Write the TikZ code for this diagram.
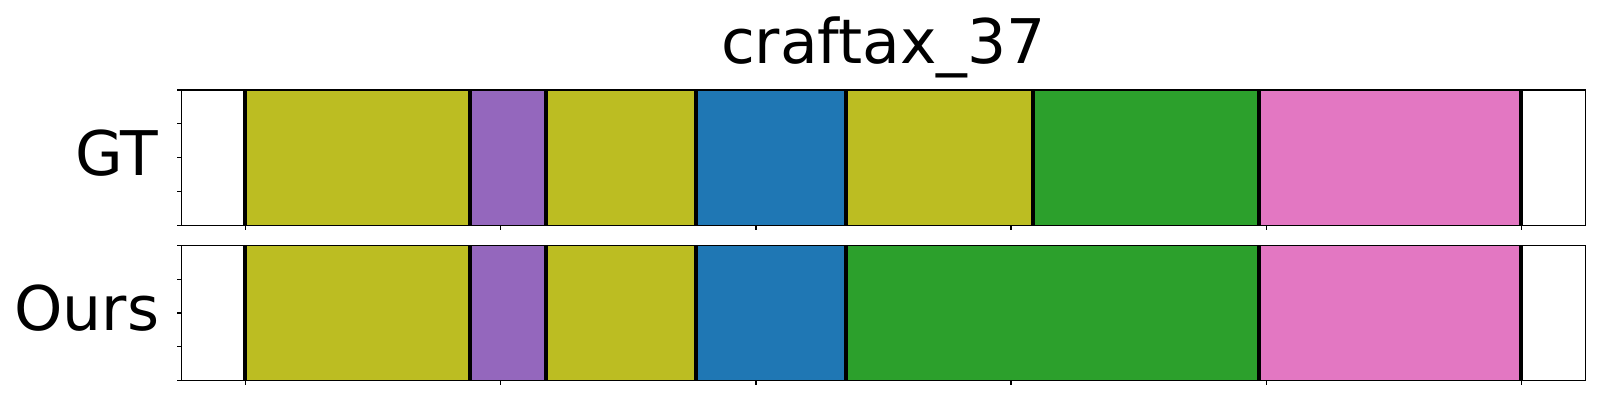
\documentclass[tikz,border=0pt]{standalone}
\usepackage{fontspec}
\setmainfont{DejaVu Sans}
\usepackage{xcolor}
\usetikzlibrary{positioning}

\definecolor{tabolive}{HTML}{BCBD22}
\definecolor{tabpurple}{HTML}{9467BD}
\definecolor{tabblue}{HTML}{1F77B4}
\definecolor{tabgreen}{HTML}{2CA02C}
\definecolor{tabpink}{HTML}{E377C2}

\tikzset{
	spine/.style = {line width = .35pt, black},
	bound/.style = {line width = 1.15pt, black},
	rowlabel/.style = {anchor = base east, inner sep = 0pt, font = \fontsize{17.5}{21}\selectfont},
}

\begin{document}
\begin{tikzpicture}[x = .01cm, y = -.01cm]
	\useasboundingbox (0,0) rectangle (1600,400);
	% GT row
	\foreach \a/\b/\c in {245/470/tabolive, 470/546/tabpurple, 546/695.7/tabolive, 695.7/846/tabblue, 846/1033/tabolive, 1033/1259/tabgreen, 1259/1520.7/tabpink}
		\fill[\c] (\a,90) rectangle (\b,225.3);
	\foreach \x in {245,470,546,695.7,846,1033,1259,1520.7}
		\draw[bound] (\x,90) -- (\x,225.3);
	\draw[spine] (181.7,90) rectangle (1585.3,225.3);
	% Ours row
	\foreach \a/\b/\c in {245/470/tabolive, 470/546/tabpurple, 546/695.7/tabolive, 695.7/846/tabblue, 846/1259/tabgreen, 1259/1520.7/tabpink}
		\fill[\c] (\a,245.7) rectangle (\b,380.3);
	\foreach \x in {245,470,546,695.7,846,1259,1520.7}
		\draw[bound] (\x,245.7) -- (\x,380.3);
	\draw[spine] (181.7,245.7) rectangle (1585.3,380.3);
	% ticks
	\foreach \y in {0,.25,.5,.75,1} {
		\draw[spine] (181.7,90+135.3*\y) -- ++(-5,0);
		\draw[spine] (181.7,245.7+134.6*\y) -- ++(-5,0);
	}
	\foreach \x in {245.7,500.8,755.9,1011,1266.1,1521.3} {
		\draw[spine] (\x,225.3) -- ++(0,5);
		\draw[spine] (\x,380.3) -- ++(0,5);
	}
	% labels
	\node[anchor = base, inner sep = 0pt, font = \fontsize{17.5}{21}\selectfont] (title) at (883.5,63) {craftax\_37};
	\node[rowlabel] (gt) at (159,175) {GT};
	\node[rowlabel] (ours) at (160,330) {Ours};
\end{tikzpicture}
\end{document}
